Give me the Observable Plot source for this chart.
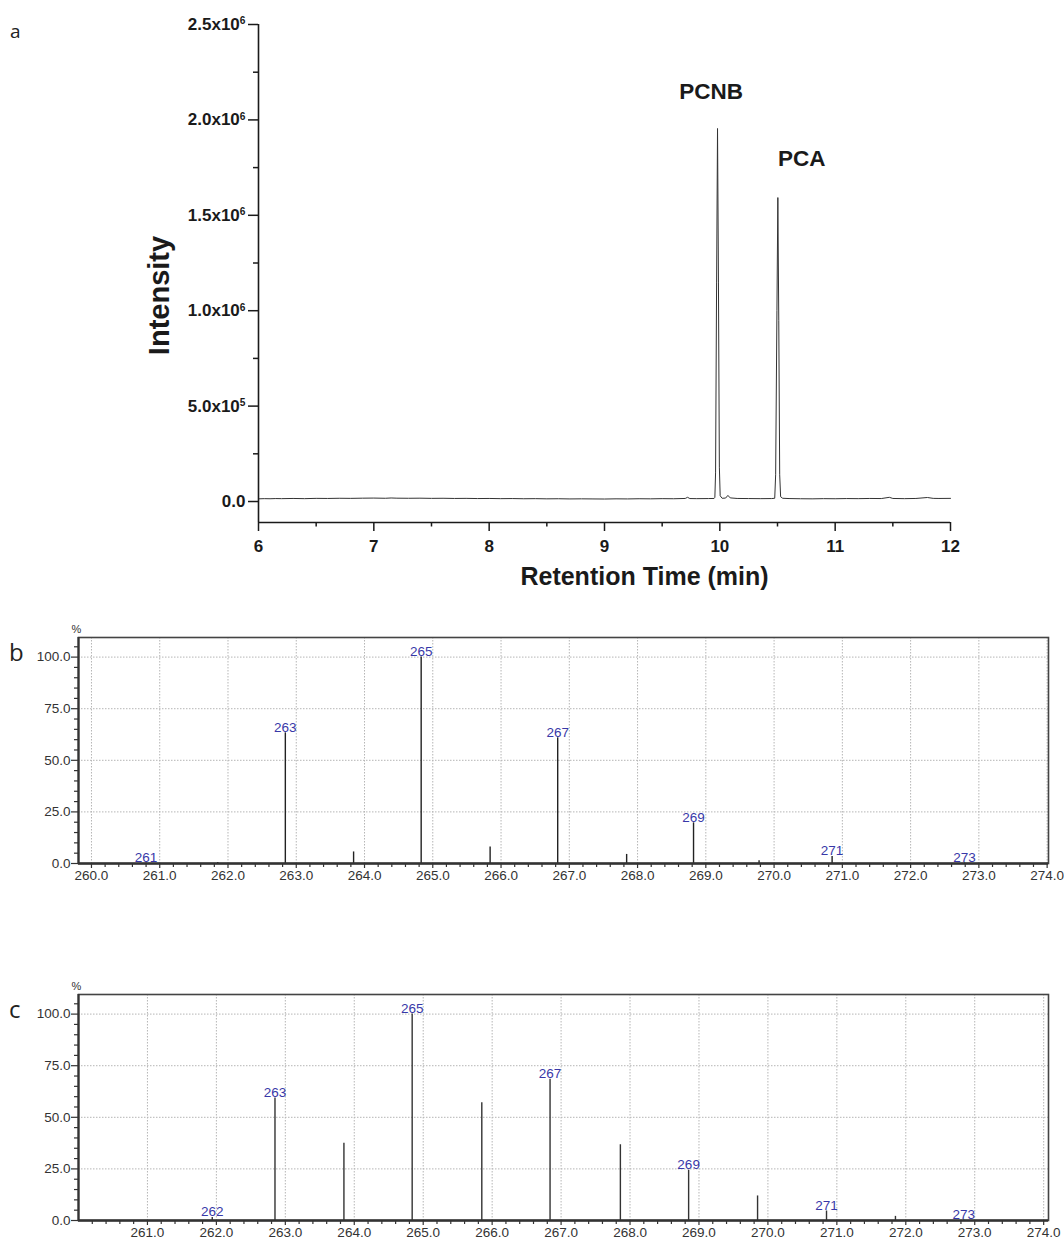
<!DOCTYPE html>
<html><head><meta charset="utf-8">
<script src="https://cdn.jsdelivr.net/npm/d3@7"></script>
<script src="https://cdn.jsdelivr.net/npm/@observablehq/plot@0.6"></script>
<style>
body{margin:0;background:#fff;}
#wrap{position:relative;width:1064px;height:1241px;background:#fff;overflow:hidden;}
.panel{position:absolute;left:0;}
.letter{position:absolute;font-family:"Open Sans","Liberation Sans",sans-serif;color:#222;line-height:1;}
</style></head><body>
<div id="wrap">
  <div class="panel" id="pa" style="top:0px"></div>
  <div class="panel" id="pb" style="top:610px"></div>
  <div class="panel" id="pc" style="top:960px"></div>
  <div class="letter" style="left:10px;top:22px;font-size:19px;">a</div>
  <div class="letter" style="left:9px;top:640px;font-size:24px;">b</div>
  <div class="letter" style="left:9px;top:997px;font-size:24px;">c</div>
</div>
<script>
// ---------- Panel a: chromatogram ----------
const rtTimes = [6.00,6.05,6.10,6.15,6.20,6.30,6.40,6.50,6.60,6.70,6.80,6.90,7.00,7.10,7.15,7.20,7.30,7.40,7.50,7.60,7.70,7.80,7.90,8.00,8.10,8.20,8.30,8.40,8.50,8.60,8.70,8.80,8.90,9.00,9.10,9.20,9.30,9.40,9.50,9.60,9.70,9.72,9.74,9.80,9.90,9.95,9.957,9.963,9.972,9.980,9.988,9.996,10.003,10.02,10.05,10.07,10.09,10.15,10.25,10.35,10.45,10.476,10.484,10.495,10.503,10.511,10.519,10.527,10.545,10.60,10.70,10.80,10.90,11.00,11.10,11.20,11.30,11.40,11.47,11.50,11.60,11.70,11.80,11.85,11.90,12.00];
const rtIntensity = [14000,15000,14500,15500,15000,16000,15000,16500,16000,17000,16500,17500,18000,17000,18500,17500,17000,17500,16500,17000,16000,16500,15500,16000,15000,15500,14500,15000,14000,14500,13500,14000,13500,13000,14000,13500,14500,14000,15000,14500,16000,22000,15500,15000,15500,16000,22000,150000,1150000,1955000,1150000,180000,30000,17000,18000,32000,19000,16000,15500,15000,15500,17000,140000,1000000,1593000,950000,140000,25000,17000,15500,14500,14000,15000,14500,15500,15000,16000,15500,22000,16000,15000,16000,21000,16500,16000,16500];
const peakNames = ["PCNB","PCA"];
const peakNameTimes = [9.925, 10.71];
const peakNameIntensity = [2145000, 1796000];
const aXDomain = [6, 12];
const aYDomain = [-110000, 2500000];
const aYTicks = [0, 500000, 1000000, 1500000, 2000000, 2500000];
const aYTickLabels = ["0.0","5.0x10^5","1.0x10^6","1.5x10^6","2.0x10^6","2.5x10^6"];
const aYMinor = [250000, 750000, 1250000, 1750000, 2250000];
const aXTicks = [6,7,8,9,10,11,12];
const aXMinor = [6.5,7.5,8.5,9.5,10.5,11.5];

const chrom = rtTimes.map((t,i)=>({t, v: rtIntensity[i]}));
const names = peakNames.map((n,i)=>({n, t: peakNameTimes[i], v: peakNameIntensity[i]}));

const plotA = Plot.plot({
  width:1064, height:600,
  marginLeft:258, marginRight:114, marginTop:24, marginBottom:78,
  x:{domain:aXDomain},
  y:{domain:aYDomain},
  style:{fontFamily:"Liberation Sans, Arial, sans-serif", color:"#1a1a1a", background:"white", overflow:"visible"},
  marks:[
    Plot.line(chrom, {x:"t", y:"v", stroke:"#333", strokeWidth:1}),
    Plot.ruleX([aXDomain[0]], {stroke:"#1a1a1a", strokeWidth:1.6}),
    Plot.ruleY([aYDomain[0]], {stroke:"#1a1a1a", strokeWidth:1.6}),
    Plot.axisY(aYTicks, {anchor:"left", tickSize:10, tickPadding:3, strokeWidth:1.5,
      tickFormat:d=>aYTickLabels[aYTicks.indexOf(d)], fontSize:17, fontWeight:"bold", label:null}),
    Plot.axisY(aYMinor, {anchor:"left", tickSize:5, strokeWidth:1.5, tickFormat:()=>"", label:null}),
    Plot.axisX(aXTicks, {anchor:"bottom", tickSize:9, tickPadding:8, strokeWidth:1.5,
      tickFormat:d=>String(d), fontSize:17, fontWeight:"bold", label:null}),
    Plot.axisX(aXMinor, {anchor:"bottom", tickSize:4.5, strokeWidth:1.5, tickFormat:()=>"", label:null}),
    Plot.text(names, {x:"t", y:"v", text:"n", fontSize:22.5, fontWeight:"bold", fill:"#1a1a1a"}),
    Plot.text(["Retention Time (min)"], {text:d=>d, frameAnchor:"bottom", lineAnchor:"middle", textAnchor:"middle", dx:40, dy:54, fontSize:25, fontWeight:"bold", fill:"#1a1a1a"}),
    Plot.text(["Intensity"], {text:d=>d, frameAnchor:"left", lineAnchor:"middle", textAnchor:"middle", rotate:-90, dx:-99, dy:22, fontSize:29, fontWeight:"bold", fill:"#1a1a1a"})
  ]
});
d3.select(plotA).selectAll('g[aria-label="y-axis tick label"] text').each(function(){
  const s = this.textContent; const i = s.indexOf("^");
  if (i < 0) return;
  const base = s.slice(0,i), ex = s.slice(i+1);
  this.textContent = "";
  d3.select(this).append("tspan").text(base);
  d3.select(this).append("tspan").attr("dy","-0.55em").attr("font-size","0.6em").text(ex);
});
document.getElementById("pa").appendChild(plotA);

// ---------- Panels b, c: mass spectra ----------
const mzB = [260.80, 261.85, 262.84, 263.84, 264.83, 265.84, 266.83, 267.84, 268.82, 269.78, 270.85, 272.79];
const intB = [0.3, 0.5, 63.3, 5.6, 100.0, 8.0, 60.9, 4.4, 19.7, 1.3, 3.4, 0.3];
const labB = ["261", "", "263", "", "265", "", "267", "", "269", "", "271", "273"];

const mzC = [261.94, 262.85, 263.85, 264.84, 265.85, 266.84, 267.86, 268.85, 269.85, 270.85, 271.85, 272.84];
const intC = [1.5, 59.3, 37.4, 100.0, 57.1, 68.4, 36.7, 24.4, 11.9, 4.6, 2.0, 0.3];
const labC = ["262", "263", "", "265", "", "267", "", "269", "", "271", "", "273"];

const specYTicks = [0, 25, 50, 75, 100];
const specYMinor = [5,10,15,20,30,35,40,45,55,60,65,70,80,85,90,95,105];
const xTicksB = [260,261,262,263,264,265,266,267,268,269,270,271,272,273,274];
const xTicksC = [261,262,263,264,265,266,267,268,269,270,271,272,273,274];
const xDomainB = [259.81, 274.02];
const xDomainC = [260.0, 274.07];
const yDomainSpec = [0, 109.5];

function spectrum(mz, inten, labels, xDomain, xTicks, height, marginTop, marginBottom, stickColor) {
  const peaks = mz.map((m,i)=>({m, v:inten[i], label:labels[i]}));
  const labeled = peaks.filter(d=>d.label);
  const minorX = d3.range(Math.ceil(xDomain[0]*5), Math.floor(xDomain[1]*5)+1)
    .map(k=>k/5).filter(v=>Math.abs(v-Math.round(v))>1e-6);
  return Plot.plot({
    width:1064, height, marginLeft:78, marginRight:16, marginTop, marginBottom,
    x:{domain:xDomain}, y:{domain:yDomainSpec},
    style:{fontFamily:"Liberation Sans, Arial, sans-serif", fontSize:"13.5px", color:"#333", background:"transparent", overflow:"visible"},
    marks:[
      Plot.gridY(specYTicks.filter(d=>d>0), {stroke:"#b5b5b5", strokeOpacity:1, strokeWidth:1, strokeDasharray:"1.5,1.5"}),
      Plot.gridX(xTicks, {stroke:"#b5b5b5", strokeOpacity:1, strokeWidth:1, strokeDasharray:"1.5,1.5"}),
      Plot.frame({stroke:"#444", strokeWidth:1.6}),
      Plot.ruleX(peaks, {x:"m", y1:0, y2:"v", stroke:stickColor, strokeWidth:1.4}),
      Plot.text(labeled, {x:"m", y:"v", text:"label", lineAnchor:"bottom", dy:-1, fill:"#3838a8", fontSize:13.5}),
      Plot.ruleX([xDomain[0]], {stroke:"#333", strokeWidth:2.2}),
      Plot.ruleY([yDomainSpec[0]], {stroke:"#333", strokeWidth:2.4}),
      Plot.axisY(specYTicks, {tickSize:7, tickPadding:1, strokeWidth:1.2, tickFormat:d=>d.toFixed(1), label:null}),
      Plot.axisY(specYMinor, {tickSize:4, strokeWidth:1.2, tickFormat:()=>"", label:null}),
      Plot.axisX(xTicks, {tickSize:5, tickPadding:2, strokeWidth:1.2, tickFormat:d=>d.toFixed(1), label:null}),
      Plot.axisX(minorX, {tickSize:4, strokeWidth:1.2, tickFormat:()=>"", label:null}),
      Plot.text(["%"], {text:d=>d, frameAnchor:"top-left", lineAnchor:"middle", textAnchor:"middle", dx:-2, dy:-8, fontSize:11, fill:"#333"})
    ]
  });
}
document.getElementById("pb").appendChild(spectrum(mzB, intB, labB, xDomainB, xTicksB, 290, 27, 37, "#222"));
document.getElementById("pc").appendChild(spectrum(mzC, intC, labC, xDomainC, xTicksC, 281, 34, 21, "#333"));
</script>
</body></html>
